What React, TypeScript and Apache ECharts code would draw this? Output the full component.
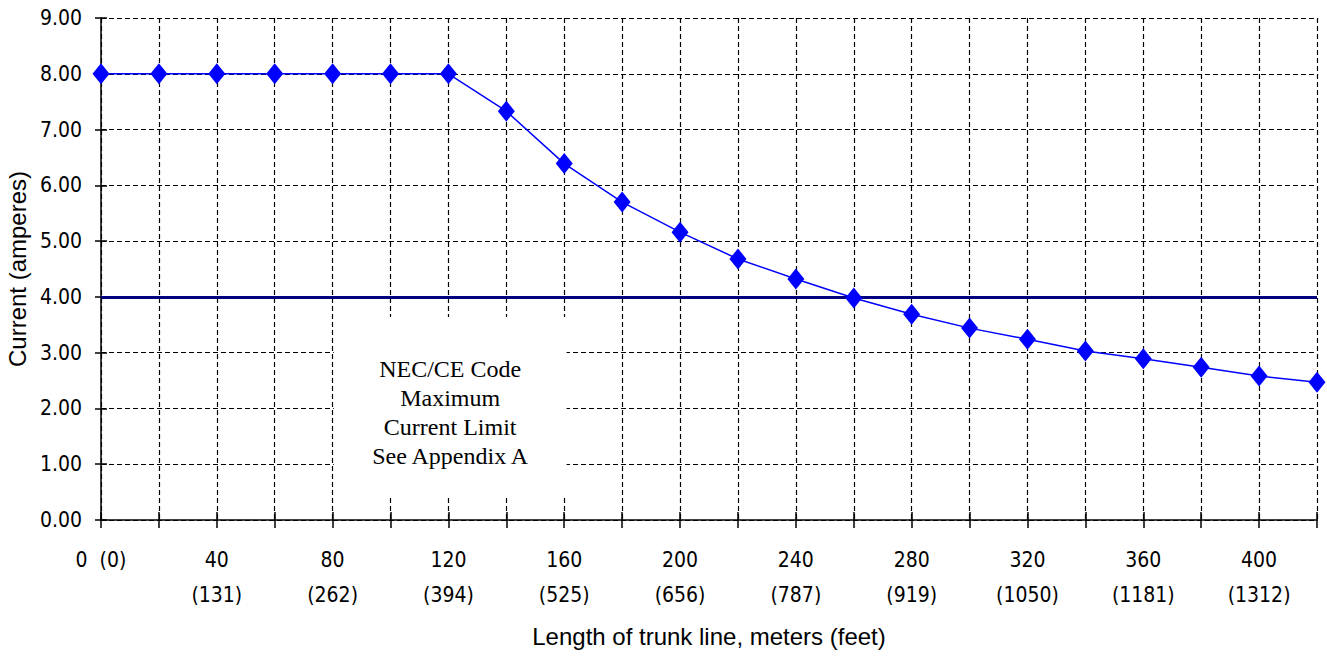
import React, { useEffect, useRef } from "react";
import * as echarts from "echarts";

const meters = [0, 20, 40, 60, 80, 100, 120, 140, 160, 180, 200, 220, 240, 260, 280, 300, 320, 340, 360, 380, 400, 420];
const current = [8.0, 8.0, 8.0, 8.0, 8.0, 8.0, 8.0, 7.33, 6.39, 5.7, 5.16, 4.68, 4.32, 3.98, 3.69, 3.44, 3.24, 3.03, 2.89, 2.74, 2.58, 2.47];
const labelMeters = [0, 40, 80, 120, 160, 200, 240, 280, 320, 360, 400];
const labelFeet = [0, 131, 262, 394, 525, 656, 787, 919, 1050, 1181, 1312];
const codeLimit = 4.0;
const noteLines = ["NEC/CE Code", "Maximum", "Current Limit", "See Appendix A"];
const noteBoxFrom = [80.4, 3.64];
const noteBoxTo = [160.8, 0.43];

const tickFont = "'Liberation Sans Narrow', 'DejaVu Sans Condensed', 'Arial Narrow', sans-serif";

export default function App() {
  const ref = useRef<HTMLDivElement>(null);
  useEffect(() => {
    if (!ref.current) return;
    const chart = echarts.init(ref.current, undefined, { renderer: "svg" });
    const xLabel = (v: number) => {
      const i = labelMeters.indexOf(v);
      if (i < 0) return "";
      if (v === 0) return `${v}  (${labelFeet[i]})`;
      return `${v}\n(${labelFeet[i]})`;
    };
    chart.setOption({
      animation: false,
      backgroundColor: "#ffffff",
      grid: { left: 101, right: 10, top: 18, bottom: 152, containLabel: false, outerBoundsMode: "none" },
      xAxis: [
        {
          type: "value",
          min: 0,
          max: 420,
          interval: 20,
          name: "Length of trunk line, meters (feet)",
          nameLocation: "middle",
          nameGap: 104,
          nameTextStyle: { fontFamily: "Arial, 'Liberation Sans', sans-serif", fontSize: 24, color: "#000" },
          axisLine: { show: true, onZero: false, lineStyle: { color: "#000", width: 1.5 } },
          axisTick: { show: true, length: 8, lineStyle: { color: "#000", width: 1.5 } },
          axisLabel: {
            show: true,
            formatter: xLabel,
            margin: 22,
            fontFamily: tickFont,
            fontSize: 21,
            lineHeight: 35,
            color: "#000",
            showMinLabel: true,
            showMaxLabel: true,
            hideOverlap: false,
          },
          splitLine: { show: true, lineStyle: { color: "#000", type: [5, 3], width: 1.2 } },
        },
        {
          type: "value",
          position: "bottom",
          min: 0,
          max: 420,
          interval: 20,
          axisLine: { show: false },
          axisTick: { show: true, inside: true, length: 8, lineStyle: { color: "#000", width: 1.5 } },
          axisLabel: { show: false },
          splitLine: { show: false },
        },
      ],
      yAxis: [
        {
          type: "value",
          min: 0,
          max: 9,
          interval: 1,
          name: "Current (amperes)",
          nameLocation: "middle",
          nameGap: 68,
          nameTextStyle: { fontFamily: "Arial, 'Liberation Sans', sans-serif", fontSize: 24, color: "#000" },
          axisLine: { show: true, lineStyle: { color: "#000", width: 1.5 } },
          axisTick: { show: true, length: 6, lineStyle: { color: "#000", width: 1.5 } },
          axisLabel: {
            formatter: (v: number) => v.toFixed(2),
            margin: 19,
            fontFamily: tickFont,
            fontSize: 21,
            color: "#000",
          },
          splitLine: { show: true, lineStyle: { color: "#000", type: [5, 3], width: 1.2 } },
        },
        {
          type: "value",
          position: "left",
          offset: 0,
          min: 0,
          max: 9,
          interval: 1,
          axisLine: { show: false },
          axisTick: { show: true, inside: true, length: 6, lineStyle: { color: "#000", width: 1.5 } },
          axisLabel: { show: false },
          splitLine: { show: false },
        },
      ],
      series: [
        {
          type: "line",
          data: meters.map((m, i) => [m, current[i]]),
          symbol: "diamond",
          symbolSize: [17, 21],
          showSymbol: true,
          lineStyle: { color: "#0000ff", width: 1.5 },
          itemStyle: { color: "#0000ff" },
          z: 5,
          markLine: {
            silent: true,
            symbol: "none",
            label: { show: false },
            lineStyle: { color: "#000080", width: 3, type: "solid" },
            data: [{ yAxis: codeLimit }],
            z: 3,
          },
          markArea: {
            silent: true,
            itemStyle: { color: "#ffffff" },
            label: {
              show: true,
              position: "inside",
              formatter: noteLines.join("\n"),
              fontFamily: "'Liberation Serif', 'Times New Roman', serif",
              fontSize: 24,
              lineHeight: 29,
              color: "#000",
              offset: [0, 6],
            },
            data: [[{ coord: noteBoxFrom }, { coord: noteBoxTo }]],
          },
        },
      ],
    });
    return () => chart.dispose();
  }, []);
  return <div ref={ref} style={{ position: "absolute", left: 0, top: 0, width: 1327, height: 672 }} />;
}
